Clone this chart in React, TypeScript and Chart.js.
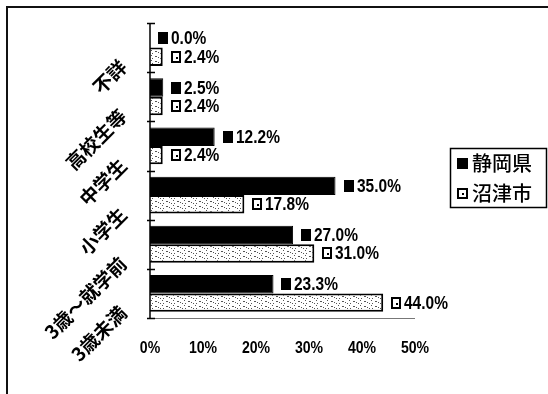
import { useEffect, useRef } from "react";
import { Chart, registerables } from "chart.js";

Chart.register(...registerables);

// Age groups, listed top to bottom
const categories = ["不詳", "高校生等", "中学生", "小学生", "3歳～就学前", "3歳未満"];
const seriesNames = ["静岡県", "沼津市"];
const shizuokaValues = [0.0, 2.5, 12.2, 35.0, 27.0, 23.3];
const numazuValues = [2.4, 2.4, 2.4, 17.8, 31.0, 44.0];
const xTicks = [0, 10, 20, 30, 40, 50];

const W = 548;
const H = 394;
const LATIN = '"Liberation Sans", Arial, sans-serif';
const CJK = '"Noto Sans CJK JP", "Noto Sans", sans-serif';

// White fill sprinkled with small dark specks for the city series
function makeSpeckle(): CanvasPattern | string {
  const c = document.createElement("canvas");
  c.width = 11;
  c.height = 5;
  const g = c.getContext("2d");
  if (!g) return "#fff";
  g.fillStyle = "#fff";
  g.fillRect(0, 0, 11, 5);
  g.fillStyle = "#555";
  const dots = [
    [1, 1], [2, 1], [6, 3], [8, 0], [4, 2], [9, 3],
  ];
  for (const [x, y] of dots) g.fillRect(x, y, 1, 1);
  return g.createPattern(c, "repeat") || "#fff";
}

function drawKey(ctx: CanvasRenderingContext2D, x: number, cy: number, w: number, h: number, filled: boolean) {
  const y = Math.round(cy - h / 2);
  if (filled) {
    ctx.fillStyle = "#000";
    ctx.fillRect(x, y, w, h);
  } else {
    ctx.fillStyle = "#fff";
    ctx.fillRect(x, y, w, h);
    ctx.strokeStyle = "#000";
    ctx.lineWidth = 2;
    ctx.strokeRect(x + 1, y + 1, w - 2, h - 2);
    ctx.fillStyle = "#000";
    ctx.fillRect(x + Math.floor(w / 2), y + Math.floor(h / 2), 2, 2);
  }
}

// Draws text squeezed horizontally to mimic a narrow face
function narrowText(ctx: CanvasRenderingContext2D, text: string, x: number, y: number, sx: number) {
  ctx.save();
  ctx.translate(x, y);
  ctx.scale(sx, 1);
  ctx.fillText(text, 0, 0);
  ctx.restore();
}

const overlay = {
  id: "overlay",
  afterDraw(chart: any) {
    const { ctx, chartArea: a, scales } = chart;
    const xs = scales.x;
    const ys = scales.y;
    ctx.save();

    // outer frame (top and left edges)
    ctx.strokeStyle = "#111";
    ctx.lineWidth = 2;
    ctx.beginPath();
    ctx.moveTo(7, H);
    ctx.lineTo(7, 7);
    ctx.lineTo(W, 7);
    ctx.stroke();

    // value axis baseline
    ctx.strokeStyle = "#777";
    ctx.lineWidth = 1;
    ctx.beginPath();
    ctx.moveTo(a.left, a.bottom + 0.5);
    ctx.lineTo(a.right, a.bottom + 0.5);
    ctx.stroke();

    // category axis with boundary ticks
    ctx.strokeStyle = "#000";
    ctx.lineWidth = 1.5;
    ctx.beginPath();
    ctx.moveTo(a.left, a.top);
    ctx.lineTo(a.left, a.bottom);
    const bounds: number[] = [a.top];
    for (let i = 0; i < categories.length - 1; i++) {
      bounds.push((ys.getPixelForValue(i) + ys.getPixelForValue(i + 1)) / 2);
    }
    bounds.push(a.bottom);
    for (const b of bounds) {
      const yy = Math.round(b) + 0.5;
      ctx.moveTo(a.left - 3, yy);
      ctx.lineTo(a.left + 5, yy);
    }
    ctx.stroke();

    // category labels, rotated 45 degrees
    ctx.fillStyle = "#000";
    ctx.font = `bold 19px ${CJK}`;
    ctx.textAlign = "right";
    ctx.textBaseline = "middle";
    categories.forEach((label, i) => {
      const cy = ys.getPixelForValue(i);
      ctx.save();
      ctx.translate(a.left - 27, cy + 16);
      ctx.rotate(-Math.PI / 4);
      ctx.fillText(label, 0, 0);
      ctx.restore();
    });

    // value tick labels
    ctx.font = `bold 16px ${LATIN}`;
    ctx.textAlign = "center";
    ctx.textBaseline = "middle";
    for (const t of xTicks) {
      narrowText(ctx, `${t}%`, xs.getPixelForValue(t), 349, 0.88);
    }

    // data labels with series key
    ctx.font = `bold 18px ${LATIN}`;
    ctx.textAlign = "left";
    ctx.textBaseline = "middle";
    [shizuokaValues, numazuValues].forEach((vals, d) => {
      const meta = chart.getDatasetMeta(d);
      vals.forEach((v, i) => {
        const bar = meta.data[i];
        const endX = xs.getPixelForValue(v);
        const kx = Math.round(endX + 8);
        drawKey(ctx, kx, bar.y, 10, 12, d === 0);
        ctx.fillStyle = "#000";
        narrowText(ctx, `${v.toFixed(1)}%`, kx + 13, bar.y + 1, 0.86);
      });
    });

    // legend box
    const lx = 450;
    const ly = 148;
    const lw = 97;
    const lh = 60;
    ctx.fillStyle = "#fff";
    ctx.fillRect(lx, ly, lw, lh);
    ctx.strokeStyle = "#000";
    ctx.lineWidth = 1.5;
    ctx.strokeRect(lx + 0.5, ly + 0.5, lw - 1, lh - 1);
    ctx.font = `500 20px ${CJK}`;
    ctx.textAlign = "left";
    ctx.textBaseline = "middle";
    seriesNames.forEach((name, d) => {
      const cy = ly + 15 + d * 30;
      drawKey(ctx, lx + 7, cy, 11, 11, d === 0);
      ctx.fillStyle = "#000";
      ctx.fillText(name, lx + 22, cy);
    });

    ctx.restore();
  },
};

export default function App() {
  const canvasRef = useRef<HTMLCanvasElement | null>(null);

  useEffect(() => {
    const canvas = canvasRef.current;
    if (!canvas) return;
    const speckle = makeSpeckle();
    const chart = new Chart(canvas, {
      type: "bar",
      data: {
        labels: categories,
        datasets: [
          {
            label: seriesNames[0],
            data: shizuokaValues,
            backgroundColor: "#000",
            borderColor: "#000",
            borderWidth: 1,
            categoryPercentage: 0.75,
            barPercentage: 1,
          },
          {
            label: seriesNames[1],
            data: numazuValues,
            backgroundColor: speckle as any,
            borderColor: "#000",
            borderWidth: 2,
            categoryPercentage: 0.75,
            barPercentage: 1,
          },
        ],
      },
      options: {
        indexAxis: "y",
        responsive: false,
        animation: false,
        devicePixelRatio: 1,
        layout: { padding: { left: 150, right: W - 415, top: 23, bottom: H - 318 } },
        scales: {
          x: { type: "linear", min: 0, max: 50, display: false },
          y: { type: "category", display: false, offset: true },
        },
        plugins: {
          legend: { display: false },
          tooltip: { enabled: false },
        },
      },
      plugins: [overlay],
    });
    return () => chart.destroy();
  }, []);

  return (
    <div style={{ position: "absolute", left: 0, top: 0, width: W, height: H, background: "#fff" }}>
      <canvas ref={canvasRef} width={W} height={H} style={{ display: "block" }} />
    </div>
  );
}
